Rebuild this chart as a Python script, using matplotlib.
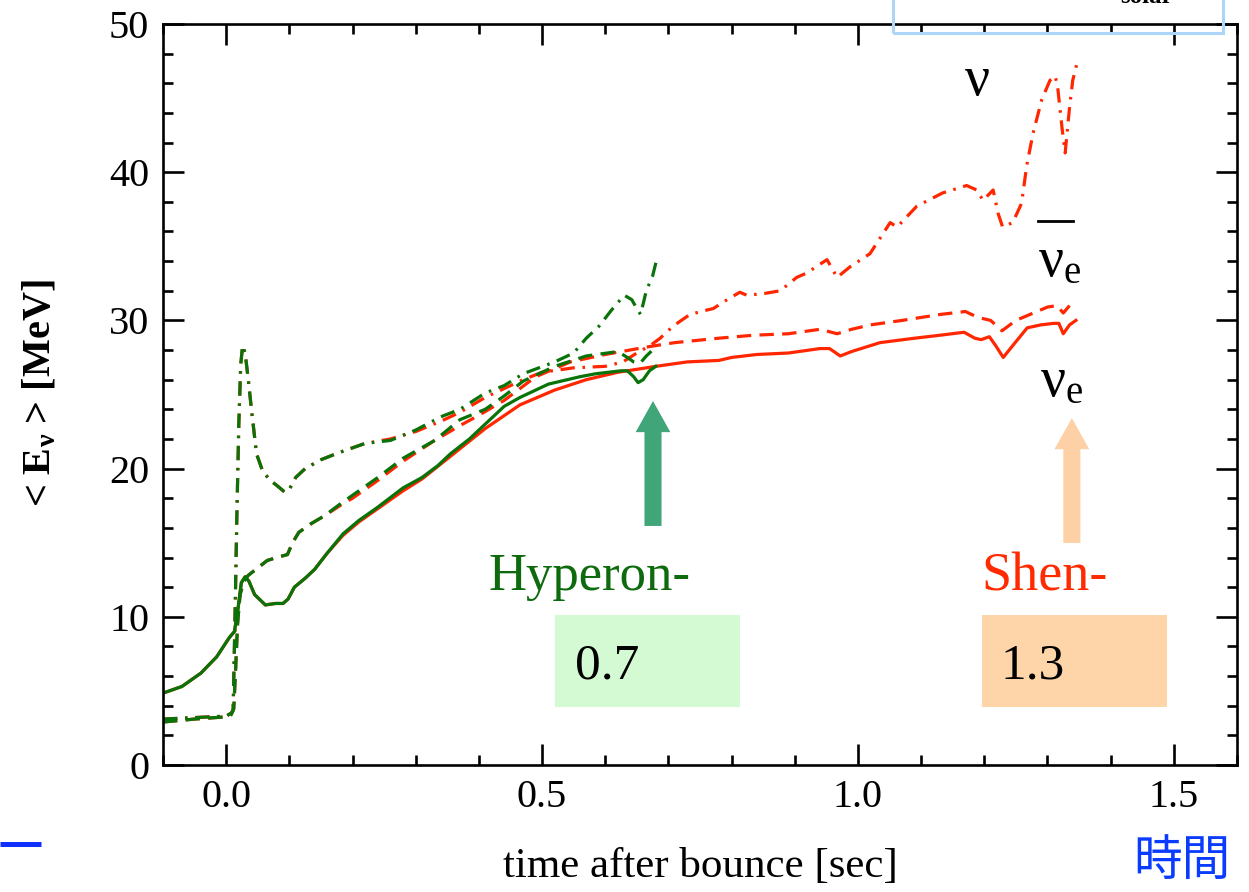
import numpy as np
import matplotlib
matplotlib.use('Agg')
import matplotlib.pyplot as plt
from matplotlib.patches import Rectangle, FancyArrow
from matplotlib.lines import Line2D
from matplotlib.ticker import MultipleLocator

plt.rcParams['font.family'] = ['Liberation Serif', 'DejaVu Serif']
plt.rcParams['mathtext.fontset'] = 'custom'
plt.rcParams['mathtext.rm'] = 'Liberation Serif'

# ---- data ----
# Hyperon EOS, nu_e (solid green)
hyp_nue_t = [-0.10, -0.07, -0.04, -0.015, 0.005, 0.013, 0.018, 0.024, 0.03, 0.036, 0.045, 0.062,
             0.078, 0.09, 0.098, 0.108, 0.125, 0.14, 0.16, 0.185, 0.21, 0.24, 0.28, 0.31, 0.335,
             0.355, 0.37, 0.385, 0.40, 0.42, 0.44, 0.465, 0.49, 0.51, 0.53, 0.56, 0.585, 0.605,
             0.625, 0.635, 0.645, 0.652, 0.66, 0.67, 0.68]
hyp_nue = [4.85, 5.3, 6.2, 7.3, 8.6, 9.0, 10.3, 12.3, 12.7, 12.4, 11.5, 10.8,
           10.9, 10.9, 11.2, 12.0, 12.6, 13.2, 14.3, 15.6, 16.5, 17.4, 18.7, 19.4, 20.2,
           21.0, 21.5, 22.0, 22.6, 23.4, 24.2, 24.8, 25.3, 25.7, 25.9, 26.2, 26.4, 26.5,
           26.6, 26.6, 26.2, 25.8, 26.0, 26.6, 26.9]

# Hyperon EOS, anti nu_e (dashed green)
hyp_anue_t = [-0.10, -0.05, 0.0, 0.008, 0.012, 0.015, 0.018, 0.022, 0.028, 0.035, 0.05, 0.065,
              0.08, 0.097, 0.105, 0.115, 0.135, 0.155, 0.18, 0.2, 0.24, 0.28, 0.33, 0.37, 0.41,
              0.44, 0.47, 0.52, 0.57, 0.62, 0.635, 0.645, 0.655, 0.665, 0.675]
hyp_anue = [2.9, 3.1, 3.25, 3.4, 3.8, 6.5, 9.5, 11.5, 12.4, 12.8, 13.3, 13.8,
            14.0, 14.2, 15.0, 15.7, 16.3, 16.8, 17.6, 18.2, 19.4, 20.7, 21.9, 23.3, 24.0,
            24.9, 25.9, 26.9, 27.6, 27.9, 27.5, 27.2, 27.1, 27.6, 28.0]

# Hyperon EOS, nu_x (dash-dot green)
hyp_nux_t = [-0.10, -0.05, 0.0, 0.008, 0.011, 0.014, 0.017, 0.02, 0.023, 0.026, 0.03, 0.035,
             0.04, 0.048, 0.058, 0.07, 0.082, 0.093, 0.1, 0.11, 0.125, 0.15, 0.18, 0.22, 0.26,
             0.30, 0.34, 0.37, 0.41, 0.44, 0.47, 0.52, 0.55, 0.57, 0.59, 0.61, 0.63, 0.642,
             0.65, 0.656, 0.665, 0.675, 0.682]
hyp_nux = [3.1, 3.2, 3.3, 3.5, 3.7, 10.0, 17.0, 23.0, 27.0, 28.3, 27.8, 26.0,
           24.0, 21.0, 19.8, 19.2, 18.8, 18.4, 18.6, 19.4, 20.0, 20.6, 21.1, 21.7, 21.9,
           22.6, 23.5, 24.0, 25.1, 25.6, 26.4, 27.2, 27.8, 28.8, 29.6, 30.7, 31.7, 31.4,
           30.8, 30.4, 32.0, 33.0, 34.2]

# Shen EOS, nu_e (solid red)
shen_nue_t = [-0.10, -0.07, -0.04, -0.015, 0.005, 0.013, 0.018, 0.024, 0.03, 0.036, 0.045, 0.062,
              0.078, 0.09, 0.098, 0.108, 0.125, 0.14, 0.16, 0.185, 0.21, 0.24, 0.28, 0.31, 0.36,
              0.41, 0.465, 0.52, 0.57, 0.62, 0.68, 0.73, 0.78, 0.80, 0.84, 0.89, 0.94, 0.955,
              0.972, 0.99, 1.035, 1.09, 1.13, 1.168, 1.185, 1.195, 1.208, 1.218, 1.23, 1.245,
              1.268, 1.29, 1.31, 1.318, 1.325, 1.335, 1.345]
shen_nue = [4.85, 5.3, 6.2, 7.3, 8.6, 9.0, 10.3, 12.3, 12.7, 12.4, 11.5, 10.8,
            10.9, 10.9, 11.2, 12.0, 12.6, 13.2, 14.3, 15.5, 16.4, 17.3, 18.5, 19.3, 21.0,
            22.7, 24.3, 25.3, 26.0, 26.5, 26.9, 27.2, 27.3, 27.5, 27.7, 27.8, 28.1, 28.1,
            27.6, 27.9, 28.5, 28.8, 29.0, 29.2, 28.8, 28.7, 28.9, 28.3, 27.5, 28.3,
            29.5, 29.7, 29.8, 29.8, 29.1, 29.7, 30.0]

# Shen EOS, anti nu_e (dashed red)
shen_anue_t = [-0.10, -0.05, 0.0, 0.008, 0.012, 0.015, 0.018, 0.022, 0.028, 0.035, 0.05, 0.065,
               0.08, 0.097, 0.105, 0.115, 0.135, 0.155, 0.18, 0.2, 0.24, 0.28, 0.33, 0.37, 0.40,
               0.44, 0.49, 0.545, 0.60, 0.665, 0.71, 0.78, 0.835, 0.89, 0.94, 0.967, 0.99,
               1.02, 1.07, 1.13, 1.17, 1.19, 1.21, 1.228, 1.25, 1.30, 1.315, 1.325, 1.335, 1.345]
shen_anue = [2.9, 3.1, 3.25, 3.4, 3.8, 6.5, 9.5, 11.5, 12.4, 12.8, 13.3, 13.8,
             14.0, 14.2, 15.0, 15.7, 16.3, 16.8, 17.5, 18.0, 19.2, 20.5, 21.9, 22.9, 23.6,
             24.6, 26.2, 27.2, 27.7, 28.2, 28.5, 28.8, 29.0, 29.1, 29.4, 29.1, 29.4,
             29.7, 30.0, 30.4, 30.6, 30.2, 30.0, 29.3, 30.0, 30.9, 31.0, 30.5, 31.0, 31.2]

# Shen EOS, nu_x (dash-dot red)
shen_nux_t = [-0.10, -0.05, 0.0, 0.008, 0.011, 0.014, 0.017, 0.02, 0.023, 0.026, 0.03, 0.035,
              0.04, 0.048, 0.058, 0.07, 0.082, 0.093, 0.1, 0.11, 0.125, 0.15, 0.18, 0.22, 0.26,
              0.30, 0.34, 0.37, 0.41, 0.44, 0.47, 0.50, 0.55, 0.60, 0.628, 0.65, 0.671, 0.687,
              0.707, 0.734, 0.761, 0.771, 0.793, 0.813, 0.824, 0.85, 0.877, 0.903, 0.919,
              0.951, 0.967, 0.987, 1.019, 1.051, 1.062, 1.093, 1.134, 1.172, 1.188, 1.198,
              1.214, 1.222, 1.229, 1.245, 1.259, 1.267, 1.277, 1.291, 1.304, 1.312, 1.316,
              1.323, 1.328, 1.335, 1.340, 1.347]
shen_nux = [3.1, 3.2, 3.3, 3.5, 3.7, 10.0, 17.0, 23.0, 27.0, 28.3, 27.8, 26.0,
            24.0, 21.0, 19.8, 19.2, 18.8, 18.4, 18.6, 19.4, 20.0, 20.6, 21.1, 21.7, 22.0,
            22.5, 23.2, 23.8, 24.8, 25.4, 26.0, 26.5, 26.8, 26.9, 27.2, 27.8, 28.3, 28.8,
            29.6, 30.4, 30.7, 30.8, 31.4, 31.9, 31.7, 31.8, 32.0, 32.9, 33.2,
            34.1, 32.9, 33.6, 34.5, 36.6, 36.3, 37.7, 38.6, 39.1, 38.8, 38.1,
            38.8, 37.2, 36.3, 36.6, 37.9, 40.4, 42.6, 44.9, 46.2, 46.5, 45.8,
            43.0, 41.3, 44.4, 46.2, 47.4]

GREEN = '#087308'
RED = '#ff2600'
W, H = 1249, 892

fig = plt.figure(figsize=(W / 100, H / 100), dpi=100)
ax = fig.add_axes([163 / W, 1 - 765 / H, (1237 - 163) / W, (765 - 24) / H])

lw = 2.3
dash = (4.5, 2.6)
dashdot = (4.5, 2.4, 0.8, 2.4)

# red (Shen) first, green (Hyperon) on top
ax.plot(shen_nue_t, shen_nue, color=RED, lw=lw)
ax.plot(shen_anue_t, shen_anue, color=RED, lw=lw, dashes=dash)
ax.plot(shen_nux_t, shen_nux, color=RED, lw=lw, dashes=dashdot)
ax.plot(hyp_nue_t, hyp_nue, color=GREEN, lw=lw)
ax.plot(hyp_anue_t, hyp_anue, color=GREEN, lw=lw, dashes=dash)
ax.plot(hyp_nux_t, hyp_nux, color=GREEN, lw=lw, dashes=dashdot)

ax.set_xlim(-0.1, 1.6)
ax.set_ylim(0, 50)
ax.xaxis.set_major_locator(MultipleLocator(0.5))
ax.xaxis.set_minor_locator(MultipleLocator(0.1))
ax.yaxis.set_major_locator(MultipleLocator(10))
ax.yaxis.set_minor_locator(MultipleLocator(2))
ax.xaxis.set_major_formatter(matplotlib.ticker.FormatStrFormatter('%.1f'))
ax.tick_params(which='both', direction='in', top=True, right=True, width=1.9,
               labelsize=29, colors='black')
ax.tick_params(which='major', length=15, pad=10)
ax.tick_params(which='minor', length=7.5)
for sp in ax.spines.values():
    sp.set_linewidth(1.9)

ax.set_xlabel('time after bounce [sec]', fontsize=31, va='center')
ax.xaxis.set_label_coords(0.5, -0.137)
ax.set_ylabel(r'< E$\mathregular{_ν}$ > [MeV]', fontsize=29, fontweight='bold',
              ha='center', va='center')
ax.yaxis.set_label_coords(-0.114, 0.502)

# flavour labels
ax.text(1.169, 45.2, 'ν', fontsize=40, va='baseline', ha='left')
ax.text(1.285, 33.0, r'$\mathregular{ν_e}$', fontsize=40, va='baseline', ha='left')
ax.plot([1.285, 1.340], [36.7, 36.7], color='black', lw=2)
ax.text(1.288, 24.9, r'$\mathregular{ν_e}$', fontsize=40, va='baseline', ha='left')

# EOS labels, boxes, arrows
ax.text(0.4146, 11.8, 'Hyperon-', color='#0d6b0d', fontsize=38, va='baseline')
ax.text(1.196, 11.8, 'Shen-', color='#ff2a00', fontsize=39, va='baseline')
ax.add_patch(Rectangle((0.5206, 3.91), 0.2927, 6.21, facecolor='#d4fad4',
                       edgecolor='none', zorder=0))
ax.add_patch(Rectangle((1.196, 3.91), 0.2927, 6.21, facecolor='#fdd5a8',
                       edgecolor='none', zorder=0))
ax.text(0.552, 5.87, '0.7', fontsize=37, va='baseline')
ax.text(1.225, 5.87, '1.3', fontsize=37, va='baseline')
ax.add_patch(FancyArrow(0.6756, 16.13, 0, 24.56 - 16.13, width=0.027, head_width=0.055,
                        head_length=2.1, length_includes_head=True,
                        color='#40a67a', lw=0))
ax.add_patch(FancyArrow(1.3386, 14.98, 0, 23.41 - 14.98, width=0.027, head_width=0.055,
                        head_length=2.1, length_includes_head=True,
                        color='#fdd0a6', lw=0))

# cropped legend box at the top, decorations at the bottom
fig.add_artist(Rectangle((893 / W, 1 - 33 / H), (1223 - 893) / W, 40 / H,
                         transform=fig.transFigure, fill=False,
                         edgecolor='#add5f7', lw=2.2))
fig.text(1120 / W, 1 - 3 / H, 'solar', fontsize=18, fontweight='bold', va='baseline')
fig.add_artist(Line2D([0, 41 / W], [1 - 843.5 / H] * 2, transform=fig.transFigure,
                      color='#1030ff', lw=3.6, solid_capstyle='butt'))
fig.text(1133 / W, 1 - 861 / H, '時間', color='#0a3cff', fontsize=35,
         family=['Noto Sans CJK JP', 'DejaVu Sans'], ha='left', va='center')

fig.savefig('out.png', dpi=100)
